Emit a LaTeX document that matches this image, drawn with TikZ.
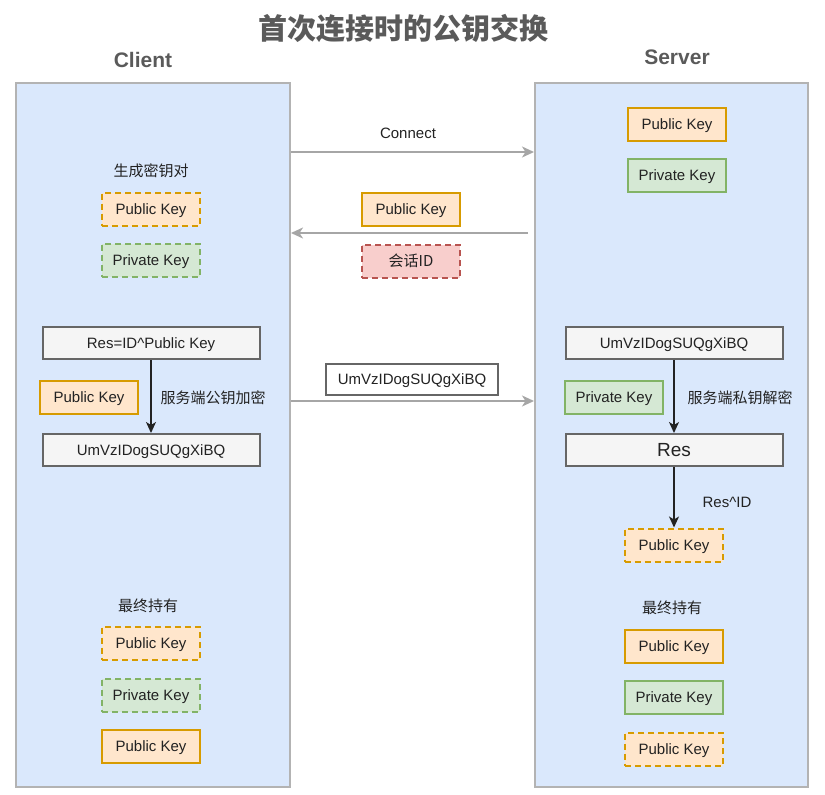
\documentclass[tikz,border=0pt]{standalone}
\usepackage{fontspec}
\setmainfont{Liberation Sans}
\newfontfamily\cjk{Noto Sans CJK SC}
\usetikzlibrary{arrows.meta}
\definecolor{panelfill}{HTML}{DAE8FC}
\definecolor{panelline}{HTML}{B3B3B3}
\definecolor{orfill}{HTML}{FFE6CC}
\definecolor{orline}{HTML}{D79B00}
\definecolor{grfill}{HTML}{D5E8D4}
\definecolor{grline}{HTML}{82B366}
\definecolor{rdfill}{HTML}{F8CECC}
\definecolor{rdline}{HTML}{B85450}
\definecolor{gyfill}{HTML}{F5F5F5}
\definecolor{gyline}{HTML}{666666}
\definecolor{titlecol}{HTML}{5A5A5A}
\definecolor{txt}{HTML}{222222}
\definecolor{arrowgray}{HTML}{A6A6A6}
\tikzset{
  panel/.style={draw=panelline, fill=panelfill, line width=2.2pt},
  keybox/.style={minimum width=98pt, minimum height=33pt, inner sep=0pt, text height=10pt, text depth=0pt, line width=2pt, font=\fontsize{15}{17}\selectfont, text=txt},
  pub/.style={keybox, draw=orline, fill=orfill},
  pubd/.style={pub, dash pattern=on 6pt off 4pt},
  priv/.style={keybox, draw=grline, fill=grfill},
  privd/.style={priv, dash pattern=on 6pt off 4pt},
  sessbox/.style={keybox, draw=rdline, fill=rdfill, dash pattern=on 6pt off 4pt},
  wide/.style={minimum width=217pt, minimum height=32pt, inner sep=0pt, text height=10pt, text depth=0pt, line width=2pt, draw=gyline, fill=gyfill, text=txt, font=\fontsize{15}{17}\selectfont},
  lbl/.style={inner sep=0pt, text height=10pt, text depth=0pt, text=txt, font=\fontsize{15}{17}\selectfont},
  cjklbl/.style={inner sep=0pt, text height=10pt, text depth=0pt, text=txt, font=\cjk\fontsize{15}{17}\selectfont},
  msg/.style={draw=arrowgray, line width=1.8pt, -{Stealth[length=12pt,width=11pt,inset=3.5pt]}},
  flow/.style={draw=txt, line width=1.5pt, -{Stealth[length=11pt,width=10pt,inset=3pt]}},
  hdr/.style={inner sep=0pt, text=titlecol, font=\bfseries\fontsize{21}{24}\selectfont}
}
\begin{document}
\begin{tikzpicture}[x=1pt,y=-1pt]
\useasboundingbox (0,0) rectangle (825,795);
% title
\node[inner sep=0pt, text=titlecol, font=\cjk\bfseries\fontsize{29}{33}\selectfont] (title) at (403,28) {首次连接时的公钥交换};
\node[hdr] (client) at (143,60) {Client};
\node[hdr] (server) at (677,57) {Server};
% panels
\draw[panel] (16,83) rectangle (290,787);
\draw[panel] (535,83) rectangle (808,787);
% connect arrow
\coordinate (c1) at (291,152);
\coordinate (c2) at (534,152);
\draw[msg] (c1) -- (c2);
\node[lbl] (connect) at (408,133) {Connect};
% reply arrow
\node[pub] (mpub) at (411,209) {Public Key};
\coordinate (r1) at (528,233);
\coordinate (r2) at (291,233);
\draw[msg] (r1) -- (r2);
\node[sessbox, font=\cjk\fontsize{15}{17}\selectfont] (sess) at (411,261) {会话ID};
% client top
\node[cjklbl] (gen) at (151,171) {生成密钥对};
\node[pubd] (cpub1) at (151,209) {Public Key};
\node[privd] (cpriv1) at (151,260) {Private Key};
% client middle
\node[wide] (cres) at (151,343) {Res=ID\^{}Public Key};
\node[pub] (cpub2) at (89,397) {Public Key};
\node[wide] (cenc) at (151,450) {UmVzIDogSUQgXiBQ};
\draw[flow] (cres) -- (cenc);
\node[cjklbl] (enclbl) at (213,398) {服务端公钥加密};
% message encrypted
\coordinate (e1) at (291,401);
\coordinate (e2) at (534,401);
\draw[msg] (e1) -- (e2);
\node[wide, minimum width=172pt, minimum height=31pt, fill=white] (msgenc) at (412,379) {UmVzIDogSUQgXiBQ};
% client bottom
\node[cjklbl] (cfin) at (148,606) {最终持有};
\node[pubd] (cpub3) at (151,643) {Public Key};
\node[privd] (cpriv3) at (151,695) {Private Key};
\node[pub] (cpub4) at (151,746) {Public Key};
% server top
\node[pub] (spub1) at (677,124) {Public Key};
\node[priv] (spriv1) at (677,175) {Private Key};
% server middle
\node[wide] (senc) at (674,343) {UmVzIDogSUQgXiBQ};
\node[priv] (spriv2) at (614,397) {Private Key};
\node[cjklbl] (declbl) at (740,398) {服务端私钥解密};
\node[wide, text height=13pt, font=\fontsize{19}{21}\selectfont] (sres) at (674,450) {Res};
\draw[flow] (senc) -- (sres);
\node[pubd] (spub2) at (674,545) {Public Key};
\draw[flow] (sres) -- (spub2);
\node[lbl] (resid) at (727,502) {Res\^{}ID};
% server bottom
\node[cjklbl] (sfin) at (672,608) {最终持有};
\node[pub] (spub3) at (674,646) {Public Key};
\node[priv] (spriv3) at (674,697) {Private Key};
\node[pubd] (spub4) at (674,749) {Public Key};
\end{tikzpicture}
\end{document}
